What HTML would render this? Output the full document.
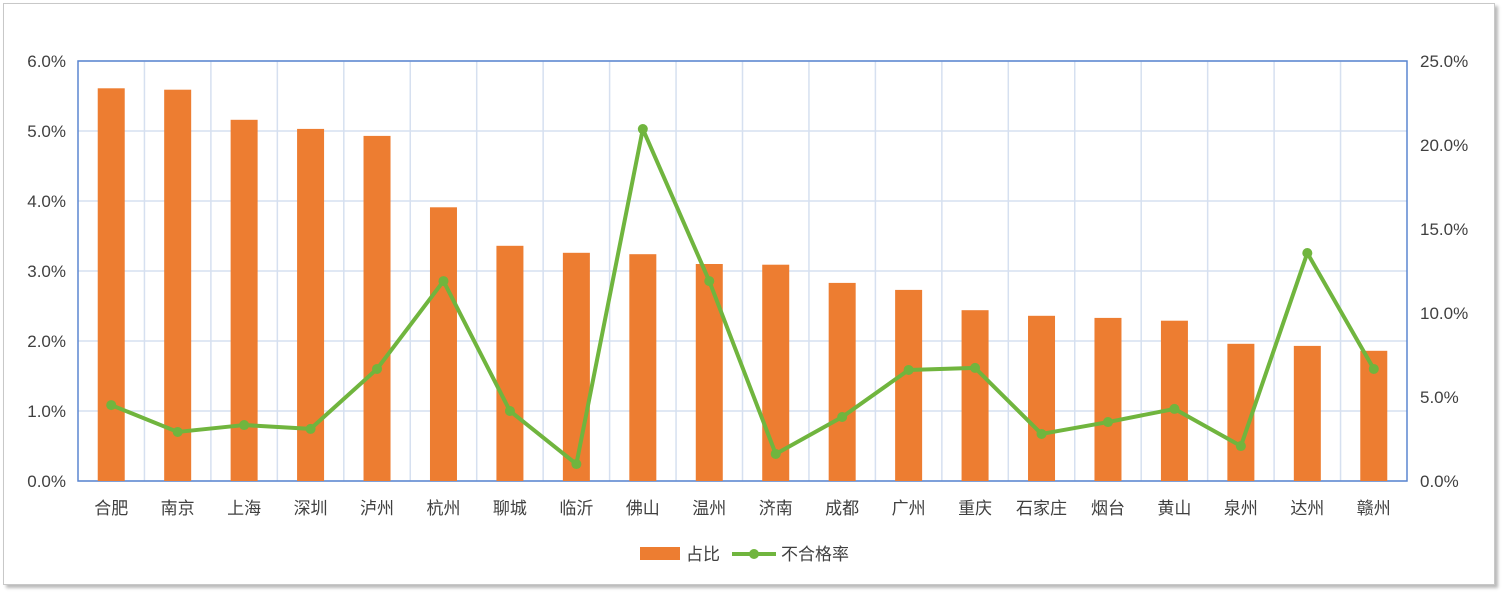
<!DOCTYPE html>
<html><head><meta charset="utf-8"><style>
body{margin:0;background:#fff;width:1508px;height:598px;overflow:hidden;font-family:"Liberation Sans","Noto Sans CJK SC",sans-serif;}
#frame{position:absolute;left:3px;top:3px;width:1490px;height:580px;border:1px solid #c8c8c8;box-shadow:3px 3px 3px #bbb;background:#fff;}
svg{position:absolute;left:0;top:0;}
text{font-family:"Liberation Sans","Noto Sans CJK SC",sans-serif;fill:#404040;}
</style></head><body>
<div id="frame"></div>
<svg id="chart" width="1508" height="598"></svg>
<script>
const categories=["合肥","南京","上海","深圳","泸州","杭州","聊城","临沂","佛山","温州","济南","成都","广州","重庆","石家庄","烟台","黄山","泉州","达州","赣州"];
const shareValues=[5.61,5.59,5.16,5.03,4.93,3.91,3.36,3.26,3.24,3.10,3.09,2.83,2.73,2.44,2.36,2.33,2.29,1.96,1.93,1.86];
const rateValues=[4.52,2.92,3.33,3.10,6.67,11.9,4.17,1.01,20.95,11.9,1.61,3.81,6.61,6.73,2.80,3.51,4.29,2.08,13.57,6.67];
const leftTicks=["0.0%","1.0%","2.0%","3.0%","4.0%","5.0%","6.0%"];
const rightTicks=["0.0%","5.0%","10.0%","15.0%","20.0%","25.0%"];
const NS="http://www.w3.org/2000/svg";
const svg=document.getElementById('chart');
const L=78,R=1407,T=61,B=481;
const band=(R-L)/categories.length;
const xC=i=>L+band*(i+0.5);
const yL=v=>B-(v/6)*(B-T);
const yR=v=>B-(v/25)*(B-T);
function mk(tag,attrs){const e=document.createElementNS(NS,tag);for(const k in attrs)e.setAttribute(k,attrs[k]);svg.appendChild(e);return e;}
// grid
leftTicks.forEach((t,i)=>{const y=yL(i);
 const g=mk('line',{x1:L,x2:R,y1:y,y2:y,stroke:'#d6e0f0','stroke-width':1.5});
 
 
 const tx=mk('text',{x:66,y:y+6,'text-anchor':'end','font-size':17});tx.textContent=t;
 
 });
for(let i=1;i<categories.length;i++){const x=L+band*i;
 const g=mk('line',{x1:x,x2:x,y1:T,y2:B,stroke:'#d6e0f0','stroke-width':1.5});
 
 }
rightTicks.forEach((t,i)=>{const y=yR(i*5);
 const tx=mk('text',{x:1420,y:y+6,'font-size':17});tx.textContent=t;
 
 });
// border
const bd=mk('rect',{x:L,y:T,width:R-L,height:B-T,fill:'none',stroke:'#5b86d0','stroke-width':1.5});


// bars
shareValues.forEach((v,i)=>{const y=yL(v);
 const b=mk('rect',{x:xC(i)-13.5,y:y,width:27,height:B-y,fill:'#ed7d31'});
 
 
 const tx=mk('text',{x:xC(i),y:514,'text-anchor':'middle','font-size':17});tx.textContent=categories[i];
 
 });
// line
const pl=mk('polyline',{points:rateValues.map((v,i)=>xC(i)+','+yR(v)).join(' '),fill:'none',stroke:'#70b53e','stroke-width':4,'stroke-linejoin':'round'});


rateValues.forEach((v,i)=>{const c=mk('circle',{cx:xC(i),cy:yR(v),r:5,fill:'#70b53e'});
 
 });
// legend
const lb=mk('rect',{x:640,y:547,width:40,height:13,fill:'#ed7d31'});


const lt1=mk('text',{x:686,y:560,'font-size':17});lt1.textContent='占比';


const ll=mk('line',{x1:732,x2:776,y1:554,y2:554,stroke:'#70b53e','stroke-width':4});


const lc=mk('circle',{cx:754,cy:554,r:5,fill:'#70b53e'});


const lt2=mk('text',{x:781,y:560,'font-size':17});lt2.textContent='不合格率';


</script>
</body></html>
